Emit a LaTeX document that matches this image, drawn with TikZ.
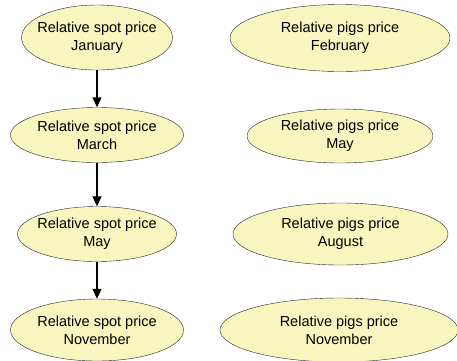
\documentclass[tikz,border=0pt]{standalone}
\usepackage{fontspec}
\setmainfont{Liberation Sans}
\usetikzlibrary{shapes.geometric,arrows.meta}
\definecolor{pricefill}{RGB}{248,245,190}
\begin{document}
\begin{tikzpicture}[x=1pt,y=-1pt,
		price/.style={ellipse,draw=black!85,fill=pricefill,inner xsep=-8pt,inner ysep=0pt,
			align=center,font=\fontsize{14.5}{18}\selectfont},
		link/.style={-{Triangle[width=9pt,length=10pt]},line width=1.2pt}]
	\useasboundingbox (0,0) rectangle (457,360);

	% spot prices
	\node[price,minimum width=151pt,minimum height=65pt] (spotjan) at (97,37.5) {Relative spot price\\January};
	\node[price,minimum width=173pt,minimum height=55pt] (spotmar) at (97,135) {Relative spot price\\March};
	\node[price,minimum width=159pt,minimum height=55pt] (spotmay) at (97,234) {Relative spot price\\May};
	\node[price,minimum width=173pt,minimum height=62pt] (spotnov) at (97,330) {Relative spot price\\November};

	% pigs prices
	\node[price,minimum width=220pt,minimum height=67pt] (pigsfeb) at (340,38) {Relative pigs price\\February};
	\node[price,minimum width=186pt,minimum height=54pt] (pigsmay) at (340,136) {Relative pigs price\\May};
	\node[price,minimum width=215pt,minimum height=62pt] (pigsaug) at (340.5,234) {Relative pigs price\\August};
	\node[price,minimum width=238pt,minimum height=64pt] (pigsnov) at (339,330) {Relative pigs price\\November};

	\draw[link] (spotjan) -- (spotmar);
	\draw[link] (spotmar) -- (spotmay);
	\draw[link] (spotmay) -- (spotnov);
\end{tikzpicture}
\end{document}
